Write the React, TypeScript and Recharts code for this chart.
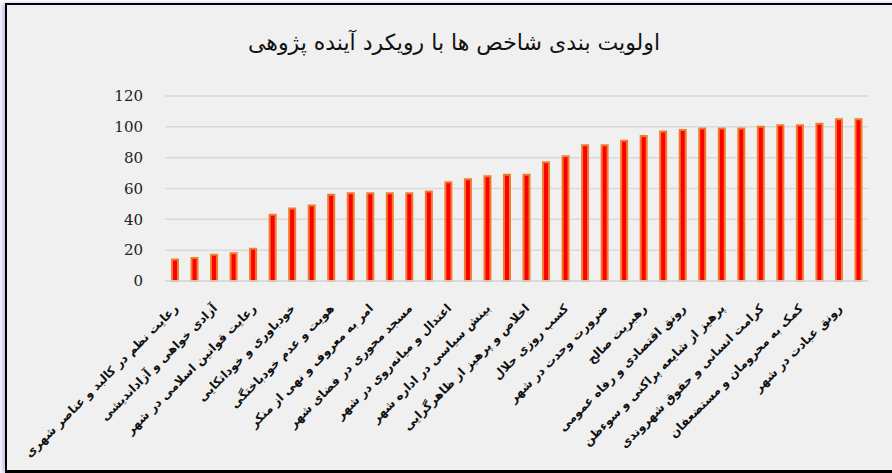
import React from "react";
import { BarChart, Bar, XAxis, YAxis, CartesianGrid } from "recharts";

const title = "اولویت بندی شاخص ها با رویکرد آینده پژوهی";

// only every other category carries a visible label
const labels = [
  "رعایت نظم در  کالبد و عناصر شهری",
  "آزادی خواهی و آزاداندیشی",
  "رعایت قوانین اسلامی در شهر",
  "خودباوری و خوداتکایی",
  "هویت و عدم خودباختگی",
  "امر به معروف و نهی از منکر",
  "مسجد محوری در فضای شهر",
  "اعتدال و میانه‌روی در شهر",
  "بینش سیاسی در اداره شهر",
  "اخلاص و پرهیز از ظاهرگرایی",
  "کسب روزی حلال",
  "ضرورت وحدت در شهر",
  "رهبریت صالح",
  "رونق اقتصادی و رفاه عمومی",
  "پرهیز از شایعه پراکنی و سوءظن",
  "کرامت انسانی و حقوق شهروندی",
  "کمک به محرومان و مستضعفان",
  "رونق عبادت در شهر",
];

const values = [
  14, 15, 17, 18, 21, 43, 47, 49, 56, 57, 57, 57,
  57, 58, 64, 66, 68, 69, 69, 77, 81, 88, 88, 91,
  94, 97, 98, 99, 99, 99, 100, 101, 101, 102, 105, 105,
];

const yTicks = [0, 20, 40, 60, 80, 100, 120];

const data = values.map((v, i) => ({ idx: i, value: v }));

const LabelTick = ({ x, y, payload }: any) => {
  const i = payload.value;
  if (i % 2 !== 0) return <g />;
  const tx = x + 4;
  const ty = y + 20;
  return (
    <text
      x={tx}
      y={ty}
      transform={`rotate(-45 ${tx} ${ty})`}
      textAnchor="end"
      fontFamily="DejaVu Sans"
      fontWeight="bold"
      fontSize={12}
      fill="#111"
    >
      {labels[i / 2]}
    </text>
  );
};

export default function App() {
  return (
    <div style={{ position: "absolute", left: 0, top: 0, width: 892, height: 473, background: "#fff", overflow: "hidden" }}>
      <div
        style={{
          position: "absolute",
          left: 5,
          top: 3,
          width: 900,
          height: 470,
          boxSizing: "border-box",
          borderTop: "2px solid #000",
          borderLeft: "2px solid #000",
          borderBottom: "3px solid #000",
          background: "#f0f0f0",
          boxShadow: "-3px 0 4px rgba(150,110,220,0.45)",
        }}
      />
      <div
        style={{
          position: "absolute",
          left: 0,
          top: 30,
          width: 908,
          textAlign: "center",
          direction: "rtl",
          fontFamily: "DejaVu Sans",
          fontSize: 22,
          color: "#111",
        }}
      >
        {title}
      </div>
      <div style={{ position: "absolute", left: 0, top: 0 }}>
        <BarChart width={892} height={473} data={data} margin={{ top: 96, right: 24, left: 0, bottom: 0 }}>
          <CartesianGrid vertical={false} stroke="#d9d9d9" strokeWidth={1.5} />
          <XAxis
            dataKey="idx"
            interval={0}
            height={192}
            tickLine={false}
            axisLine={{ stroke: "#d9d9d9", strokeWidth: 1.5 }}
            tick={<LabelTick />}
          />
          <YAxis
            domain={[0, 120]}
            ticks={yTicks}
            width={165}
            axisLine={false}
            tickLine={false}
            tickMargin={16}
            tick={{ fontFamily: "DejaVu Serif", fontSize: 15, fill: "#222" }}
          />
          <Bar
            dataKey="value"
            barSize={6}
            fill="#ff0000"
            stroke="#ed7d31"
            strokeWidth={2}
            isAnimationActive={false}
          />
        </BarChart>
      </div>
    </div>
  );
}
